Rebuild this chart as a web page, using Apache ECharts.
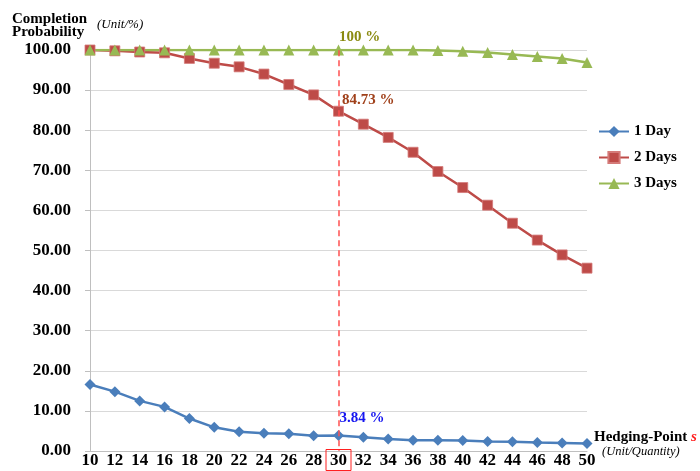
<!DOCTYPE html>
<html>
<head>
<meta charset="utf-8">
<script src="https://cdn.jsdelivr.net/npm/echarts@6/dist/echarts.min.js"></script>
<style>html,body{margin:0;padding:0;background:#fff;}#c{width:700px;height:471px;}</style>
</head>
<body>
<div id="c"></div>
<script>
const hedgingPoints = ['10','12','14','16','18','20','22','24','26','28','30','32','34','36','38','40','42','44','46','48','50'];
const day1 = [16.6, 14.8, 12.5, 11.0, 8.1, 5.9, 4.8, 4.4, 4.3, 3.8, 3.84, 3.4, 3.0, 2.7, 2.7, 2.6, 2.4, 2.3, 2.1, 2.0, 1.9];
const day2 = [100, 99.8, 99.5, 99.3, 97.9, 96.7, 95.8, 94.0, 91.4, 88.8, 84.73, 81.5, 78.2, 74.5, 69.7, 65.7, 61.3, 56.8, 52.6, 48.9, 45.6];
const day3 = [100, 100, 100, 100, 100, 100, 100, 100, 100, 100, 100, 100, 100, 100, 99.9, 99.7, 99.4, 98.9, 98.4, 97.9, 96.9];
const seriesNames = ['1 Day', '2 Days', '3 Days'];
const yTicks = [0, 10, 20, 30, 40, 50, 60, 70, 80, 90, 100];
const highlightPoint = '30';
const annotations = ['3.84 %', '84.73 %', '100 %'];

const SERIF = "'Liberation Serif', 'Times New Roman', serif";
const hi = hedgingPoints.indexOf(highlightPoint);

function mp(val, text, color, dx, dy) {
  return {
    symbol: 'circle', symbolSize: 1, itemStyle: {color: 'rgba(0,0,0,0)'},
    data: [{coord: [highlightPoint, val]}],
    label: {show: true, position: 'right', distance: 0, offset: [dx, dy], formatter: text,
      color: color, fontFamily: SERIF, fontWeight: 'bold', fontSize: 15, align: 'left', verticalAlign: 'middle'}
  };
}

const chart = echarts.init(document.getElementById('c'), null, {renderer: 'canvas'});
chart.setOption({
  animation: false,
  backgroundColor: '#fff',
  title: [
    {text: 'Completion\nProbability', left: 12, top: 13, padding: 0,
     textStyle: {fontFamily: SERIF, fontWeight: 'bold', fontSize: 15, lineHeight: 13, color: '#000'}},
    {text: '(Unit/%)', left: 97, top: 18, padding: 0,
     textStyle: {fontFamily: SERIF, fontStyle: 'italic', fontWeight: 'normal', fontSize: 13, color: '#000'}},
    {text: 'Hedging-Point {s|s}', left: 594, top: 430, padding: 0,
     textStyle: {fontFamily: SERIF, fontWeight: 'bold', fontSize: 15, color: '#000',
       rich: {s: {fontFamily: SERIF, fontWeight: 'bold', fontStyle: 'italic', fontSize: 15, color: '#FF2020'}}}},
    {text: '(Unit/Quantity)', left: 602, top: 445, padding: 0,
     textStyle: {fontFamily: SERIF, fontStyle: 'italic', fontWeight: 'normal', fontSize: 12.5, color: '#000'}}
  ],
  legend: {
    orient: 'vertical', left: 598, top: 124, padding: 0, itemWidth: 30, itemHeight: 14, itemGap: 11,
    data: seriesNames,
    textStyle: {fontFamily: SERIF, fontWeight: 'bold', fontSize: 15, lineHeight: 15, color: '#000'}
  },
  grid: {left: 90, right: 113, top: 50, bottom: 20, containLabel: false},
  xAxis: {
    type: 'category', data: hedgingPoints, boundaryGap: false,
    axisLine: {show: true, lineStyle: {color: '#BFBFBF', width: 1}},
    axisTick: {show: false},
    splitLine: {show: false},
    axisLabel: {
      interval: 0, margin: 1,
      formatter: v => v === highlightPoint ? '{b|' + v + '}' : '{n|' + v + '}',
      rich: {
        n: {fontFamily: SERIF, fontWeight: 'bold', fontSize: 17, lineHeight: 16, color: '#000', padding: [3, 4, 1, 4]},
        b: {fontFamily: SERIF, fontWeight: 'bold', fontSize: 17, lineHeight: 16, color: '#000', padding: [3, 4, 1, 4],
            borderColor: '#FF2020', borderWidth: 1}
      }
    }
  },
  yAxis: [{
    type: 'value', min: yTicks[0], max: yTicks[yTicks.length - 1], interval: yTicks[1] - yTicks[0],
    axisLine: {show: true, lineStyle: {color: '#BFBFBF', width: 1}},
    axisTick: {show: true, length: 5, lineStyle: {color: '#BFBFBF'}},
    splitLine: {show: true, lineStyle: {color: '#D9D9D9', width: 1}},
    axisLabel: {margin: 19, formatter: v => v.toFixed(2), fontFamily: SERIF, fontWeight: 'bold', fontSize: 17, color: '#000'}
  }, {
    type: 'value', min: 0, max: 102.75, show: false, splitLine: {show: false}
  }],
  series: [
    {name: seriesNames[0], type: 'line', data: day1, symbol: 'diamond', symbolSize: 11,
     lineStyle: {color: '#4A7EBB', width: 2.5}, itemStyle: {color: '#4A7EBB'},
     markPoint: mp(day1[hi], annotations[0], '#1414F0', 0.5, -17.5)},
    {name: seriesNames[1], type: 'line', data: day2, symbol: 'rect', symbolSize: 10,
     lineStyle: {color: '#BE4B48', width: 2.5}, itemStyle: {color: '#BE4B48', borderColor: '#D47A78', borderWidth: 0.8},
     markPoint: mp(day2[hi], annotations[1], '#A0401A', 3, -11)},
    {name: seriesNames[2], type: 'line', data: day3, symbol: 'triangle', symbolSize: 11,
     lineStyle: {color: '#98B954', width: 2.5}, itemStyle: {color: '#98B954'},
     markPoint: mp(day3[hi], annotations[2], '#8A8A10', 0, -13)},
    {type: 'line', yAxisIndex: 1, data: [], silent: true,
     markLine: {symbol: ['none', 'none'], silent: true, label: {show: false},
       lineStyle: {color: '#FF5050', type: [6, 4], width: 1.5},
       data: [[{coord: [highlightPoint, 102.7]}, {coord: [highlightPoint, 0]}]]}}
  ]
});
</script>
</body>
</html>
